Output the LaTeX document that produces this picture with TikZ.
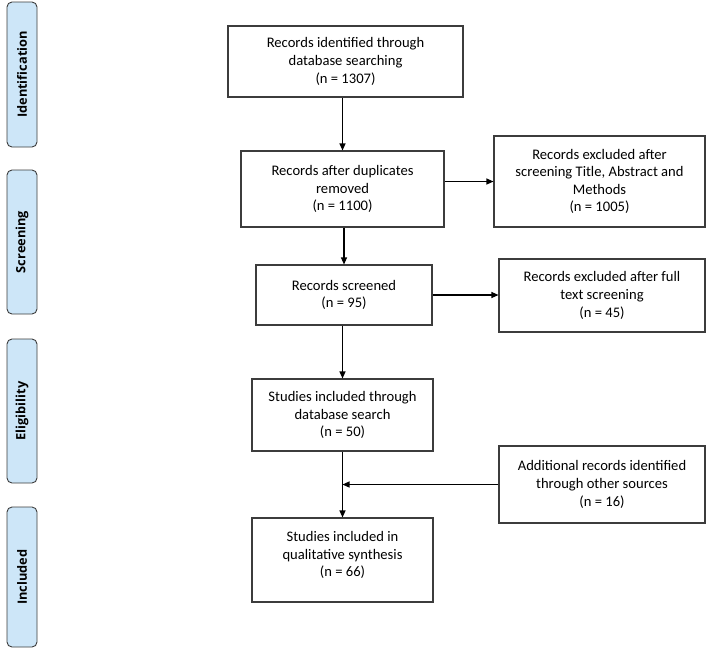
\documentclass[tikz,border=0pt]{standalone}
\usepackage{fontspec}
\setmainfont{Carlito}
\newfontfamily\labfont{Open Sans}
\usetikzlibrary{arrows.meta}
\definecolor{phasefill}{HTML}{CDE6F8}
\definecolor{edgegray}{HTML}{3C3C3C}
\begin{document}
\begin{tikzpicture}[x=1pt,y=-1pt,
  box/.style={draw=edgegray, line width=1.1pt, fill=white, align=center, inner sep=2pt,
    font=\fontsize{14.6}{17.6}\selectfont},
  phase/.style={draw=edgegray, line width=0.9pt, fill=phasefill, rounded corners=5pt,
    minimum width=30pt},
  phasetext/.style={rotate=90, font=\labfont\bfseries\fontsize{12.8}{14}\selectfont},
  arr/.style={line width=1.1pt, draw=black, -{Triangle[length=7pt,width=6pt]}}]
\useasboundingbox (0,0) rectangle (708,654);
% phase labels
\node[phase, minimum height=145pt] (p1) at (22,74.5) {};
\node[phasetext] at (p1.center) {Identification};
\node[phase, minimum height=144pt] (p2) at (22,242) {};
\node[phasetext] at (p2.center) {Screening};
\node[phase, minimum height=144pt] (p3) at (22,411) {};
\node[phasetext] at (p3.center) {Eligibility};
\node[phase, minimum height=140pt] (p4) at (22,577) {};
\node[phasetext] at (p4.center) {Included};
% main boxes
\node[box, minimum width=235pt, minimum height=71pt] (b1) at (345.5,61.5)
  {Records identified through\\database searching\\(n = 1307)};
\node[box, minimum width=203pt, minimum height=76pt] (b2) at (342.5,189)
  {Records after duplicates\\removed\\(n = 1100)};
\node[box, minimum width=176pt, minimum height=60pt] (b3) at (344,295)
  {Records screened\\(n = 95)};
\node[box, minimum width=181pt, minimum height=72pt] (b4) at (342.5,415)
  {Studies included through\\database search\\(n = 50)};
\node[box, minimum width=181pt, minimum height=84pt] (b5) at (342.5,560) {};
\node[font=\fontsize{14.6}{17.6}\selectfont, align=center] (b5t) at (342.5,555)
  {Studies included in\\qualitative synthesis\\(n = 66)};
% right boxes
\node[box, minimum width=211pt, minimum height=91pt] (r1) at (599.5,181.5)
  {Records excluded after\\screening Title, Abstract and\\Methods\\(n = 1005)};
\node[box, minimum width=206pt, minimum height=73pt] (r2) at (602,295.5)
  {Records excluded after full\\text screening\\(n = 45)};
\node[box, minimum width=206pt, minimum height=77pt] (r3) at (602,484.5)
  {Additional records identified\\through other sources\\(n = 16)};
% connectors
\draw[arr] (b2.north |- b1.south) -- (b2.north);
\draw[arr] (b2.east |- r1.west) -- (r1.west);
\draw[arr] (b3.north |- b2.south) -- (b3.north);
\draw[arr] (b3.east) -- (r2.west |- b3.east);
\draw[arr] (b4.north |- b3.south) -- (b4.north);
\draw[arr] (b4.south) -- (b5.north);
\coordinate (m) at (b4.south |- r3.west);
\draw[arr] (r3.west) -- (m);
\end{tikzpicture}
\end{document}
